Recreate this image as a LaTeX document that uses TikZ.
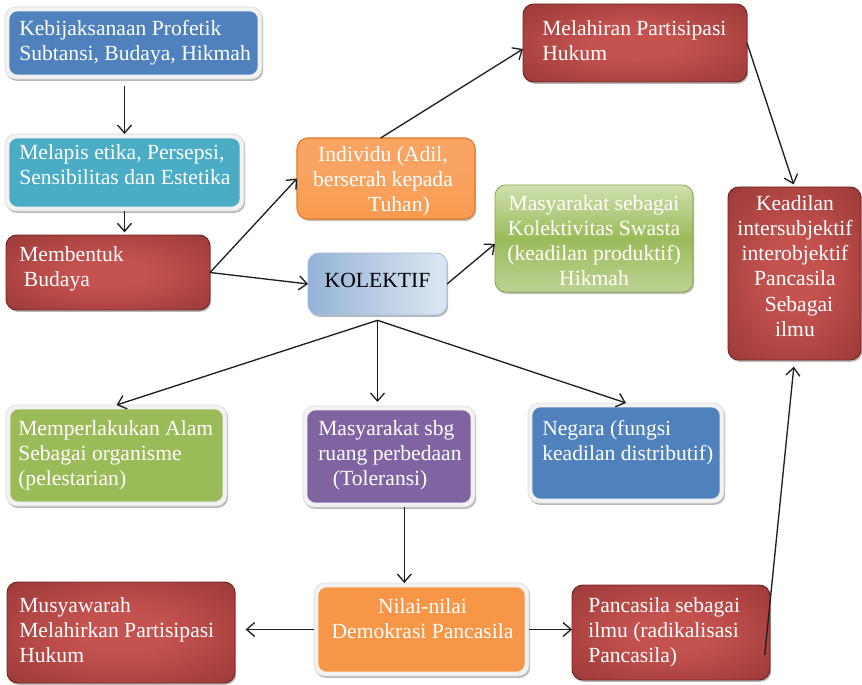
\documentclass[tikz,border=0pt]{standalone}
\usepackage{fontspec}
\setmainfont{Liberation Serif}
\usetikzlibrary{fit,shadows,arrows.meta,calc}

% palette
\definecolor{blueclr}{HTML}{4F81BD}
\definecolor{tealclr}{HTML}{4BACC6}
\definecolor{grnflat}{HTML}{9BBB59}
\definecolor{purpclr}{HTML}{8064A2}
\definecolor{orngclr}{HTML}{F79646}
\definecolor{framefill}{HTML}{F2F2F2}
\definecolor{frameedge}{HTML}{D9D9D9}
\definecolor{redhi}{HTML}{C4524F}
\definecolor{redlo}{HTML}{8B302E}
\definecolor{rededge}{HTML}{6E2624}
\definecolor{indtop}{HTML}{FBCBA3}
\definecolor{indmid}{HTML}{F9A463}
\definecolor{indbot}{HTML}{F7913D}
\definecolor{indedge}{HTML}{E47A2A}
\definecolor{kolL}{HTML}{95B3D7}
\definecolor{kolR}{HTML}{DDE7F3}
\definecolor{kolEdge}{HTML}{A3BCDC}
\definecolor{grnA}{HTML}{CFE0AE}
\definecolor{grnB}{HTML}{9BBB59}
\definecolor{grnC}{HTML}{BDD293}
\definecolor{grnEdge}{HTML}{86A444}

% glowing red fill: light centre, dark rim
\pgfdeclareradialshading{redglow}{\pgfpoint{0bp}{0bp}}{color(0bp)=(redhi); color(10bp)=(redhi); color(46bp)=(redlo); color(71bp)=(redlo)}
% orange fill: pale top band, saturated body
\pgfdeclareverticalshading{indfill}{100bp}{color(0bp)=(indbot); color(55bp)=(indmid); color(85bp)=(indmid); color(100bp)=(indtop)}

% label helpers: #1 name, (#2,#3) first baseline, #4 text
\newcommand\txtL[4]{\node[lbl, anchor=north west, align=left, yshift=13pt] (#1) at (#2,#3) {\rule{0pt}{13pt}#4};}
\newcommand\txtC[4]{\node[lbl, anchor=north, align=center, yshift=13pt] (#1) at (#2,#3) {\rule{0pt}{13pt}#4};}

\begin{document}
\begin{tikzpicture}[x=0.75pt, y=-0.75pt,
  box/.style={inner sep=0pt, outer sep=0pt, rounded corners=8pt},
  softshadow/.style={drop shadow={shadow xshift=0.9pt, shadow yshift=-1.4pt, fill=black!55, opacity=.5}},
  framed/.style={box, fill=framefill, draw=frameedge, line width=.4pt, softshadow,
    path picture={\fill[#1, rounded corners=6.5pt]
      ([xshift=3.2pt,yshift=-3.2pt]path picture bounding box.north west) rectangle
      ([xshift=-3.2pt,yshift=3.2pt]path picture bounding box.south east);}},
  redbox/.style={box, shade, shading=redglow, draw=rededge, line width=.7pt, softshadow},
  indbox/.style={box, shade, shading=indfill, draw=indedge, line width=.8pt, softshadow},
  kolbox/.style={box, left color=kolL, right color=kolR, draw=kolEdge, line width=.6pt, softshadow},
  grnbox/.style={box, top color=grnA, bottom color=grnC, middle color=grnB, draw=grnEdge, line width=.6pt, softshadow},
  conn/.style={draw=black!88, line width=1pt, -{Straight Barb[length=6pt,width=10.5pt]}},
  lbl/.style={text=white, inner sep=0pt, font=\fontsize{16.2}{18.9}\selectfont}]

\useasboundingbox (0,0) rectangle (862,684);

% boxes
\node[framed=blueclr, fit={(5,7) (262,79)}] (kebij) {};
\node[framed=tealclr, fit={(5,134) (244,211)}] (melapis) {};
\node[redbox, fit={(6,235) (210,310)}] (memb) {};
\node[indbox, fit={(297,138) (475,219)}] (indiv) {};
\node[kolbox, fit={(308,253) (447,315)}] (kol) {};
\node[grnbox, fit={(495,185) (693,292)}] (masy) {};
\node[redbox, fit={(523,4) (747,82)}] (mel) {};
\node[redbox, fit={(728,187) (861,360)}] (keadilan) {};
\node[framed=grnflat, fit={(6,405) (227,506)}] (alam) {};
\node[framed=purpclr, fit={(303,406) (475,507)}] (sbg) {};
\node[framed=blueclr, fit={(528,403) (724,503)}] (negara) {};
\node[framed=orngclr, fit={(314,583) (529,676)}] (nilai) {};
\node[redbox, fit={(7,582) (235,683)}] (musy) {};
\node[redbox, fit={(572,585) (770,680)}] (panc) {};

% connectors
\draw[conn, shorten <=5pt] (kebij.south -| melapis.north) -- (melapis.north);
\draw[conn, shorten >=2pt] (melapis.south) -- (melapis.south |- memb.north);
\draw[conn] (memb.east) -- (indiv.west);
\draw[conn] (memb.east) -- (kol.west);
\draw[conn] ([xshift=-4pt]indiv.north) -- ([yshift=-4.5pt]mel.west);
\draw[conn, shorten >=2pt] (mel.east) -- (keadilan.north);
\draw[conn] (kol.east) -- ([yshift=-4pt]masy.west);
\draw[conn] ([yshift=-4pt]kol.south) -- (alam.north);
\draw[conn, shorten >=7pt] ([yshift=-4pt]kol.south) -- ([yshift=-4pt]kol.south |- sbg.north);
\draw[conn] ([yshift=-4pt]kol.south) -- (negara.north);
\draw[conn] ([xshift=11.5pt]sbg.south) -- ([xshift=11.5pt]sbg.south |- nilai.north);
\draw[conn, shorten >=8pt] (nilai.west) -- (nilai.west -| musy.east);
\draw[conn] (nilai.east) -- (nilai.east -| panc.west);
\draw[conn, shorten >=5pt] ([shift={(-4pt,-17pt)}]panc.east) -- (keadilan.south);

% labels
\txtL{t-kebij}{19}{35}{Kebijaksanaan Profetik\\Subtansi, Budaya, Hikmah}
\txtL{t-melapis}{19}{159}{Melapis etika, Persepsi,\\Sensibilitas dan Estetika}
\txtL{t-memb}{19}{261}{Membentuk\\\hspace*{3.5pt}Budaya}
\txtC{t-indiv}{383}{161}{Individu (Adil,\\berserah kepada\\\hspace*{24pt}Tuhan)}
\node[lbl, text=black, anchor=base] (t-kol) at (377.5,287) {KOLEKTIF};
\txtC{t-masy}{594}{210}{Masyarakat sebagai\\Kolektivitas Swasta\\(keadilan produktif)\\Hikmah}
\txtL{t-mel}{542}{35}{Melahiran Partisipasi\\Hukum}
\txtC{t-keadilan}{795}{210}{Keadilan\\intersubjektif\\interobjektif\\Pancasila\\\hspace*{6pt}Sebagai\\ilmu}
\txtL{t-alam}{18}{435}{Memperlakukan Alam\\Sebagai organisme\\(pelestarian)}
\txtL{t-sbg}{318}{435}{Masyarakat sbg\\ruang perbedaan\\\hspace*{11pt}(Toleransi)}
\txtL{t-negara}{542}{435}{Negara (fungsi\\keadilan distributif)}
\txtC{t-nilai}{422.5}{613}{Nilai-nilai\\Demokrasi Pancasila}
\txtL{t-musy}{19}{612}{Musyawarah\\Melahirkan Partisipasi\\Hukum}
\txtL{t-panc}{588}{612}{Pancasila sebagai\\ilmu (radikalisasi\\Pancasila)}

\end{tikzpicture}
\end{document}
